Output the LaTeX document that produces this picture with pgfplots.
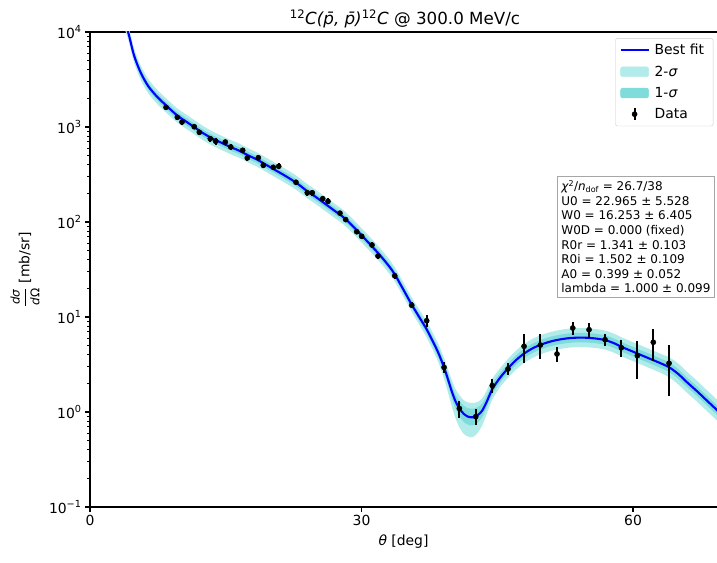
\documentclass[border=0pt]{standalone}
\usepackage{fontspec}
\setmainfont{DejaVu Sans}
\usepackage{amsmath}
\usepackage{pgfplots}
\pgfplotsset{compat=1.18}
\usepackage{pgfplotstable}
\usepgfplotslibrary{fillbetween}

\definecolor{fitblue}{RGB}{0,0,255}
\definecolor{sigtwo}{RGB}{178,236,234}
\definecolor{sigone}{RGB}{127,220,218}

% best fit curve and bands, given as log10 of dsigma/dOmega
\pgfplotstableread{
x L l2 l1 u1 u2
3.9 4.09 4.015 4.053 4.127 4.165
4.24 3.99 3.915 3.953 4.027 4.065
4.79 3.779 3.704 3.742 3.816 3.854
5.16 3.674 3.599 3.637 3.711 3.749
5.71 3.551 3.476 3.514 3.588 3.626
6.45 3.428 3.353 3.391 3.465 3.503
7.37 3.323 3.248 3.286 3.360 3.398
8.40 3.228 3.153 3.191 3.265 3.303
9.65 3.12 3.045 3.083 3.157 3.195
10.5 3.065 2.990 3.028 3.102 3.140
11.5 3.0 2.925 2.963 3.037 3.075
12.5 2.935 2.860 2.898 2.972 3.010
13.5 2.88 2.805 2.843 2.917 2.955
14.5 2.835 2.760 2.798 2.872 2.910
15.5 2.79 2.715 2.753 2.827 2.865
16.5 2.75 2.675 2.713 2.787 2.825
17.5 2.70 2.625 2.663 2.737 2.775
18.5 2.655 2.580 2.618 2.692 2.730
19.5 2.60 2.525 2.563 2.637 2.675
20.5 2.545 2.470 2.508 2.582 2.620
21.5 2.49 2.415 2.453 2.527 2.565
22.76 2.415 2.340 2.378 2.452 2.490
24.0 2.325 2.250 2.288 2.362 2.400
25.0 2.26 2.185 2.223 2.297 2.335
26.0 2.19 2.115 2.153 2.227 2.265
27.0 2.12 2.045 2.083 2.157 2.195
28.0 2.05 1.975 2.013 2.087 2.125
29.0 1.96 1.885 1.923 1.997 2.035
30.0 1.86 1.785 1.823 1.897 1.935
31.0 1.76 1.685 1.723 1.797 1.835
32.0 1.655 1.580 1.618 1.692 1.730
33.0 1.54 1.465 1.503 1.577 1.615
33.67 1.45 1.375 1.413 1.487 1.525
34.5 1.31 1.235 1.273 1.347 1.385
35.55 1.13 1.055 1.093 1.167 1.205
36.5 0.98 0.90 0.94 1.02 1.06
37.2 0.87 0.785 0.828 0.912 0.955
38.0 0.72 0.63 0.675 0.765 0.81
38.5 0.62 0.52 0.57 0.67 0.715
39.12 0.47 0.35 0.415 0.525 0.57
39.6 0.33 0.19 0.27 0.39 0.44
40.0 0.21 0.05 0.14 0.275 0.33
40.4 0.11 -0.07 0.035 0.18 0.24
40.8 0.04 -0.16 -0.04 0.12 0.18
41.3 -0.02 -0.23 -0.105 0.065 0.125
41.8 -0.05 -0.26 -0.135 0.04 0.10
42.3 -0.055 -0.265 -0.14 0.035 0.095
42.8 -0.035 -0.225 -0.115 0.05 0.105
43.3 0.01 -0.15 -0.06 0.085 0.14
43.8 0.10 -0.03 0.04 0.165 0.22
44.45 0.24 0.13 0.185 0.295 0.35
45.3 0.36 0.26 0.31 0.41 0.46
46.19 0.46 0.36 0.41 0.51 0.56
47.0 0.54 0.44 0.49 0.59 0.64
47.96 0.615 0.515 0.565 0.665 0.715
49.0 0.675 0.575 0.625 0.725 0.775
50.0 0.715 0.615 0.665 0.765 0.815
51.0 0.745 0.645 0.695 0.795 0.845
52.0 0.765 0.665 0.715 0.815 0.865
53.0 0.778 0.678 0.728 0.828 0.878
54.0 0.783 0.683 0.733 0.833 0.883
55.0 0.781 0.681 0.731 0.831 0.881
56.0 0.772 0.672 0.722 0.822 0.872
57.0 0.755 0.655 0.705 0.805 0.855
58.0 0.72 0.62 0.67 0.77 0.82
58.7 0.687 0.587 0.637 0.737 0.787
60.0 0.635 0.535 0.585 0.685 0.735
61.0 0.595 0.495 0.545 0.645 0.695
62.0 0.555 0.455 0.505 0.605 0.655
63.0 0.515 0.415 0.465 0.565 0.615
64.0 0.47 0.365 0.42 0.52 0.575
65.0 0.40 0.29 0.35 0.45 0.51
66.0 0.31 0.20 0.26 0.36 0.42
67.0 0.225 0.115 0.175 0.275 0.335
68.0 0.135 0.025 0.085 0.185 0.245
69.0 0.045 -0.065 -0.005 0.095 0.155
69.6 -0.01 -0.12 -0.06 0.04 0.10
}\curve

\pgfplotstableread{
x y e
8.40 1611 110
9.65 1265 80
10.17 1129 75
11.52 1007 65
12.08 879 60
13.29 753 50
13.89 707 55
14.95 695 40
15.55 616 40
16.87 569 35
17.38 472 35
18.60 475 30
19.15 395 28
20.25 377 25
20.85 386 28
22.76 262 16
24.01 203 14
24.56 203 14
25.71 176 11
26.30 165 12
27.62 124 8
28.25 106 7
29.47 79 5
30.02 70.7 4.5
31.16 57.3 4
31.82 43.9 3
33.67 27.2 2
35.55 13.3 1
37.20 9.14 1.3
39.12 2.95 0.37
40.81 1.09 0.23
42.62 0.893 0.17
44.45 1.90 0.3
46.19 2.84 0.4
47.96 4.92 1.66
49.76 5.07 1.5
51.60 4.08 0.7
53.34 7.66 1.15
55.14 7.35 1.3
56.91 5.77 0.85
58.71 4.75 1.0
60.48 3.92 1.7
62.24 5.42 2.0
63.98 3.26 1.8
}\data

\begin{document}
\begin{tikzpicture}
\begin{axis}[
  at={(0,0)}, anchor=south west,
  scale only axis, width=627pt, height=475pt,
  xmin=0, xmax=69.28, ymin=0.1, ymax=10000, ymode=log,
  axis x line*=box, axis y line*=left,
  axis line style={-, line width=1.1pt, black},
  xtick={0,30,60}, xticklabels={0,30,60},
  ytick={0.1,1,10,100,1000,10000},
  yticklabels={10\textsuperscript{−1},10\textsuperscript{0},10\textsuperscript{1},10\textsuperscript{2},10\textsuperscript{3},10\textsuperscript{4}},
  tick align=outside, xtick pos=bottom, ytick pos=left,
  major tick length=4.9pt, minor tick length=2.8pt,
  major tick style={line width=1.1pt, black},
  minor tick style={line width=0.8pt, black},
  tick label style={font=\fontsize{13.9}{16.7}\selectfont},
  xlabel={{\itshape θ} [deg]},
  ylabel={$\dfrac{\mbox{\fontsize{12}{13}\selectfont\itshape dσ}}{\mbox{\fontsize{12}{13}\selectfont\itshape d\upshape Ω}}$ [mb/sr]},
  every axis x label/.style={at={(axis description cs:0.5,0)}, anchor=base, yshift=-38pt,
    font=\fontsize{13.9}{16.7}\selectfont},
  every axis y label/.style={at={(axis description cs:-0.1037,0.5)}, anchor=center, rotate=90,
    font=\fontsize{13.9}{16.7}\selectfont},
  legend style={at={(0.994,0.987)}, anchor=north east, draw=black!20, rounded corners=2pt,
    fill=white, font=\fontsize{13.9}{16.7}\selectfont, row sep=5.5pt, inner sep=4pt,
    nodes={inner xsep=5pt}},
  legend cell align=left,
]
\addlegendimage{legend image code/.code={\draw[fitblue, line width=2.1pt] (0pt,0pt)--(28pt,0pt);}}
\addlegendentry{Best fit}
\addlegendimage{legend image code/.code={\fill[sigtwo] (0pt,-4.9pt) rectangle (28pt,4.9pt);}}
\addlegendentry{2-{\itshape σ}}
\addlegendimage{legend image code/.code={\fill[sigone] (0pt,-4.9pt) rectangle (28pt,4.9pt);}}
\addlegendentry{1-{\itshape σ}}
\addlegendimage{legend image code/.code={\draw[black, line width=2pt] (14pt,-6pt)--(14pt,6pt); \fill[black] (14pt,0pt) circle (2.6pt);}}
\addlegendentry{Data}

\addplot[draw=none, smooth, name path=u2, forget plot] table[x=x, y expr=10^\thisrow{u2}] {\curve};
\addplot[draw=none, smooth, name path=l2, forget plot] table[x=x, y expr=10^\thisrow{l2}] {\curve};
\addplot[draw=none, smooth, name path=u1, forget plot] table[x=x, y expr=10^\thisrow{u1}] {\curve};
\addplot[draw=none, smooth, name path=l1, forget plot] table[x=x, y expr=10^\thisrow{l1}] {\curve};
\addplot[sigtwo, draw=none, forget plot] fill between[of=u2 and l2];
\addplot[sigone, draw=none, forget plot] fill between[of=u1 and l1];
\addplot[fitblue, line width=2.1pt, smooth, forget plot] table[x=x, y expr=10^\thisrow{L}] {\curve};
\addplot[only marks, mark=*, mark size=2.6pt, black, forget plot,
  error bars/.cd, y dir=both, y explicit, error mark=none,
  error bar style={line width=2pt, black}]
  table[x=x, y=y, y error=e] {\data};
\end{axis}
% title
\node[anchor=base, inner sep=0pt, font=\fontsize{16.7}{20}\selectfont] at (315pt,482pt)
  {\textsuperscript{12}{\itshape C(p̄, p̄)}\textsuperscript{12}{\itshape C} @ 300.0 MeV/c};
% fit summary box
\node[anchor=north west, draw=black!35, fill=white, line width=0.8pt, align=left, inner sep=4pt,
  font=\fontsize{12}{14.6}\selectfont] at (467pt,331pt)
  {{\itshape χ}\textsuperscript{2}/{\itshape n}\textsubscript{dof} = 26.7/38\\
   U0 = 22.965 ± 5.528\\
   W0 = 16.253 ± 6.405\\
   W0D = 0.000 (fixed)\\
   R0r = 1.341 ± 0.103\\
   R0i = 1.502 ± 0.109\\
   A0 = 0.399 ± 0.052\\
   lambda = 1.000 ± 0.099};
\pgfresetboundingbox
\path[use as bounding box] (-90pt,-55pt) rectangle (627pt,507pt);
\end{tikzpicture}
\end{document}
